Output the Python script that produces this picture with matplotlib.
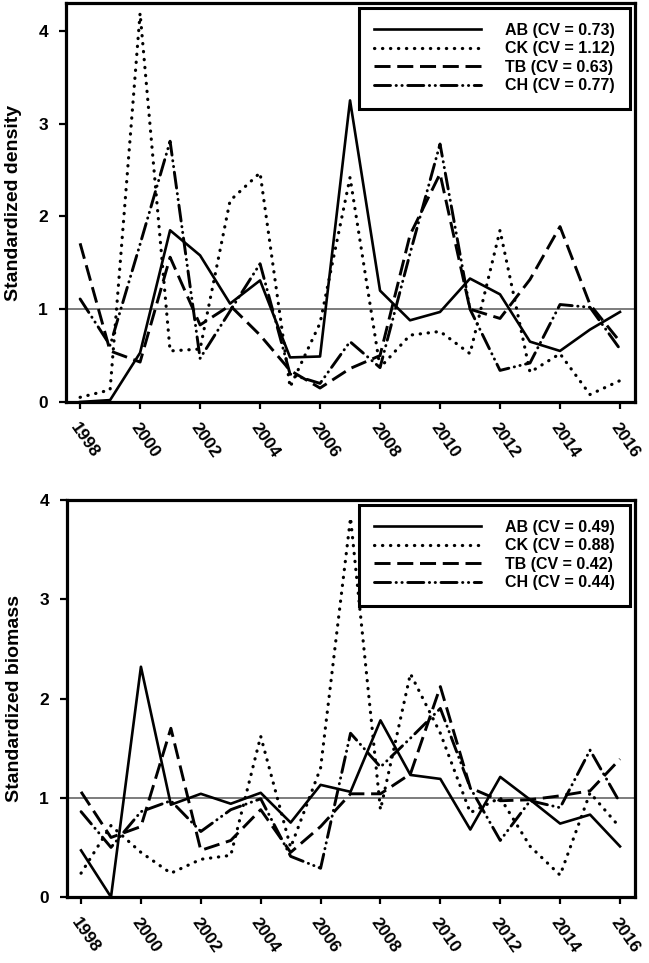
import matplotlib
matplotlib.use("Agg")
import matplotlib.pyplot as plt

plt.rcParams['font.family'] = ['Liberation Sans', 'DejaVu Sans']
plt.rcParams['font.weight'] = 'bold'

years = list(range(1998, 2017))
year_ticks = list(range(1998, 2017, 2))

# standardized density
dens_ab = [0.0, 0.02, 0.53, 1.85, 1.58, 1.06, 1.31, 0.48, 0.49, 3.25, 1.20, 0.88, 0.97, 1.33, 1.16, 0.65, 0.55, 0.78, 0.97]
dens_ck = [0.05, 0.13, 4.19, 0.55, 0.57, 2.17, 2.47, 0.16, 0.85, 2.42, 0.37, 0.72, 0.76, 0.52, 1.85, 0.32, 0.52, 0.08, 0.23]
dens_tb = [1.71, 0.55, 0.43, 1.56, 0.83, 1.04, 0.72, 0.34, 0.15, 0.36, 0.50, 1.80, 2.46, 1.00, 0.90, 1.32, 1.89, 1.05, 0.65]
dens_ch = [1.11, 0.61, 1.70, 2.81, 0.47, 0.98, 1.49, 0.30, 0.20, 0.65, 0.37, 1.60, 2.78, 1.00, 0.34, 0.42, 1.05, 1.02, 0.57]
dens_cv = [0.73, 1.12, 0.63, 0.77]

# standardized biomass
bio_ab = [0.47, 0.0, 2.32, 0.93, 1.04, 0.94, 1.05, 0.75, 1.13, 1.06, 1.78, 1.23, 1.19, 0.68, 1.21, 0.98, 0.74, 0.83, 0.51]
bio_ck = [0.24, 0.72, 0.45, 0.24, 0.38, 0.42, 1.62, 0.50, 1.30, 3.82, 0.88, 2.25, 1.65, 0.85, 1.00, 0.51, 0.22, 1.05, 0.70]
bio_tb = [1.06, 0.60, 0.71, 1.70, 0.47, 0.57, 0.88, 0.45, 0.71, 1.04, 1.04, 1.24, 2.12, 1.10, 0.97, 0.98, 1.02, 1.07, 1.39]
bio_ch = [0.86, 0.50, 0.86, 0.97, 0.66, 0.88, 0.99, 0.41, 0.29, 1.65, 1.31, 1.60, 1.90, 1.10, 0.57, 0.97, 0.90, 1.48, 0.95]
bio_cv = [0.49, 0.88, 0.42, 0.44]

sites = ['AB', 'CK', 'TB', 'CH']
styles = [
    dict(linestyle='-', lw=1.9),
    dict(linestyle=(0, (0.1, 2.4)), lw=2.3, dash_capstyle='round'),
    dict(linestyle=(0, (5.5, 2.3)), lw=2.1),
    dict(linestyle=(0, (5.5, 1.9, 0.1, 1.9, 0.1, 1.9)), lw=2.1, dash_capstyle='round'),
]


def draw_panel(ax, series, cvs, ylabel, ytop):
    ax.axhline(1, color='#666666', lw=1.2, zorder=1.5)
    for name, vals, cv, st in zip(sites, series, cvs, styles):
        ax.plot(years, vals, color='black', label='%s (CV = %.2f)' % (name, cv), zorder=3, **st)
    ax.set_xlim(1997.53, 2016.5)
    ax.set_ylim(0, ytop)
    ax.set_yticks([0, 1, 2, 3, 4])
    ax.set_xticks(year_ticks)
    ax.set_xticklabels([str(y) for y in year_ticks], rotation=-55, ha='left', va='top',
                       rotation_mode='anchor')
    ax.tick_params(axis='both', direction='out', length=5, width=1.6, labelsize=12.5, pad=8)
    for lab in ax.get_xticklabels() + ax.get_yticklabels():
        lab.set_fontweight('bold')
    for sp in ax.spines.values():
        sp.set_linewidth(2.3)
    ax.set_ylabel(ylabel, fontsize=14, fontweight='bold')
    ax.yaxis.set_label_coords(-0.077, 0.5)
    leg = ax.legend(loc='upper right', fontsize=11.5, handlelength=6.7, handletextpad=1.5,
                    labelspacing=0.22, borderpad=0.95, borderaxespad=0.3,
                    fancybox=False, framealpha=1, edgecolor='black')
    leg.get_frame().set_linewidth(2.2)
    for t in leg.get_texts():
        t.set_fontweight('bold')


fig = plt.figure(figsize=(6.49, 9.63), dpi=100)
ax1 = fig.add_axes([0.1017, 0.5826, 0.8767, 0.4143])
ax2 = fig.add_axes([0.1032, 0.0685, 0.8752, 0.4123])

draw_panel(ax1, [dens_ab, dens_ck, dens_tb, dens_ch], dens_cv, 'Standardized density', 4.3)
draw_panel(ax2, [bio_ab, bio_ck, bio_tb, bio_ch], bio_cv, 'Standardized biomass', 4.0)

fig.savefig('out.png', dpi=100)
